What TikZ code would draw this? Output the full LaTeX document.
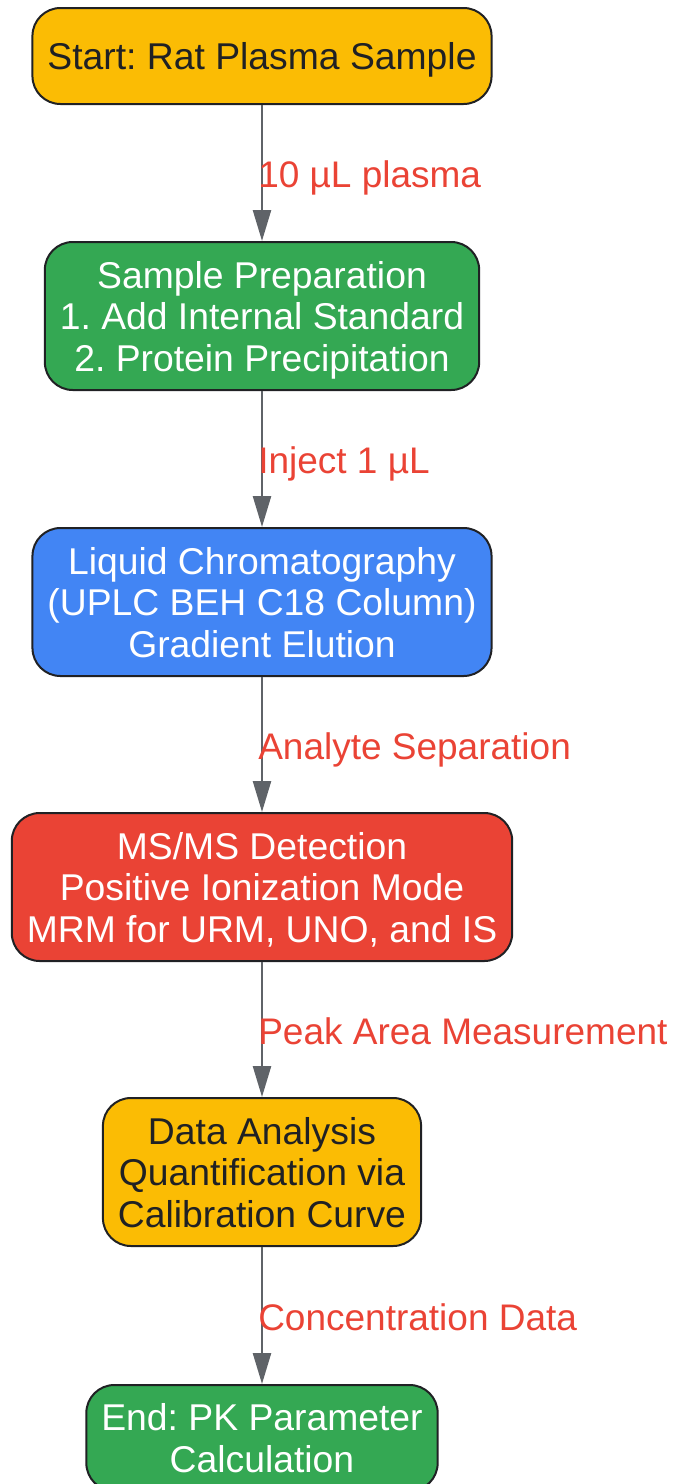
\documentclass[tikz,border=0pt]{standalone}
\usepackage{fontspec}
\setmainfont{Liberation Sans}
\frenchspacing
\usetikzlibrary{arrows.meta}
\definecolor{gyellow}{HTML}{FBBC04}
\definecolor{ggreen}{HTML}{34A853}
\definecolor{gblue}{HTML}{4285F4}
\definecolor{gred}{HTML}{EA4335}
\definecolor{gdark}{HTML}{202124}
\definecolor{ggray}{HTML}{5F6368}
\tikzset{
  box/.style={draw=gdark, line width=2pt, rounded corners=28pt, align=center,
    inner xsep=15pt, inner ysep=0pt, text depth=-2pt,
    font=\fontsize{37.3}{41.5}\selectfont},
  flow/.style={draw=ggray, line width=2.5pt, -{Triangle[length=31pt,width=18pt]}},
  lbl/.style={text=gred, anchor=west, inner sep=0pt, xshift=-5pt, yshift=-5pt,
    text height=27pt, text depth=8pt, font=\fontsize{37}{41.5}\selectfont}
}
\begin{document}
\begin{tikzpicture}[x=1pt,y=-1pt]
  \useasboundingbox (0,0) rectangle (673,1484);
  \node [box, fill=gyellow, text=gdark, minimum height=96pt] (start) at (262,56)
    {Start: Rat Plasma Sample};
  \node [box, fill=ggreen, text=white, minimum height=148pt] (prep) at (262,316)
    {Sample Preparation\\1. Add Internal Standard\\2. Protein Precipitation};
  \node [box, fill=gblue, text=white, minimum height=148pt] (lc) at (262,602)
    {Liquid Chromatography\\(UPLC BEH C18 Column)\\Gradient Elution};
  \node [box, fill=gred, text=white, minimum height=148pt] (msms) at (262,887)
    {MS/MS Detection\\Positive Ionization Mode\\MRM for URM, UNO, and IS};
  \node [box, fill=gyellow, text=gdark, minimum height=148pt] (data) at (262,1172)
    {Data Analysis\\Quantification via\\Calibration Curve};
  \node [box, fill=ggreen, text=white, minimum height=106pt] (end) at (262,1438)
    {End: PK Parameter\\Calculation};
  \draw [flow] (start) -- node [lbl] {10 µL plasma} (prep);
  \draw [flow] (prep) -- node [lbl] {Inject 1 µL} (lc);
  \draw [flow] (lc) -- node [lbl] {Analyte Separation} (msms);
  \draw [flow] (msms) -- node [lbl] {Peak Area Measurement} (data);
  \draw [flow] (data) -- node [lbl] {Concentration Data} (end);
\end{tikzpicture}
\end{document}
